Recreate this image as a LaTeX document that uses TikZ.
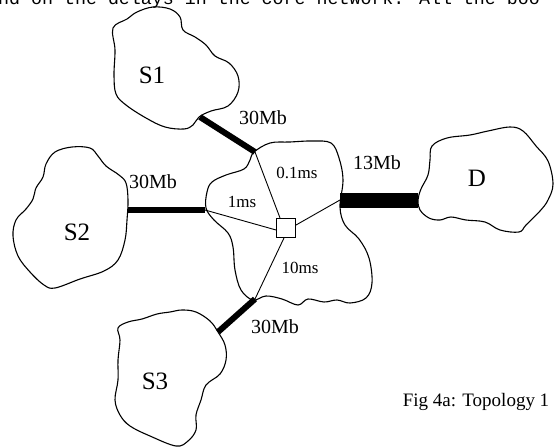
\documentclass[tikz,border=0pt]{standalone}
\usepackage{fontspec}
\setmainfont{Liberation Serif}
\newfontfamily\topfont{Liberation Mono}
\begin{document}
\begin{tikzpicture}[x=1pt,y=-1pt,
  cloud/.style={draw=black,line width=1.1pt,smooth cycle,tension=0.6},
  thinlink/.style={draw=black,line width=0.9pt},
  thicklink/.style={draw=black,line width=#1},
  cname/.style={font=\fontsize{25}{25}\selectfont},
  bwlabel/.style={font=\fontsize{20}{20}\selectfont},
  dlabel/.style={font=\fontsize{17}{17}\selectfont}]
\useasboundingbox (0,0) rectangle (554,447);
% cut-off text line at the top
\begin{scope}
\clip (0,0) rectangle (554,8);
\node[anchor=base west,inner sep=0,font=\topfont\fontsize{18.3}{18}\selectfont] (toptext) at (-2,4.5) {nd on the delays in the core network. All the boo};
\end{scope}
% clouds
\draw[cloud] plot coordinates {(113,28) (127,19) (137,12) (153,7) (170,9) (180,17) (183,30) (195,37) (206,45) (215,56) (229,63) (238,76) (238,92) (228,106) (211,111) (199,117) (193,125) (184,129) (165,127) (146,118) (126,105) (116,94) (114,75) (115,50)};
\draw[cloud] plot coordinates {(55,152) (72,147) (90,148) (98,156) (106,166) (119,175) (126,183) (128,200) (127,220) (125,240) (118,260) (104,271) (80,279) (55,288) (44,285) (30,272) (18,256) (13,236) (16,220) (26,209) (33,199) (36,188) (43,177) (46,164)};
\draw[cloud] plot coordinates {(432,146) (447,138) (470,135) (488,131) (510,127) (523,131) (536,146) (548,161) (553,184) (548,200) (540,211) (526,225) (519,232) (500,230) (485,222) (466,220) (451,217) (440,220) (429,218) (420,210) (418,200) (421,189) (428,175) (430,160)};
\draw[cloud] plot coordinates {(182,310) (196,312) (210,321) (218,332) (225,345) (226,360) (220,374) (206,385) (201,400) (196,415) (196,430) (188,441) (176,446) (150,436) (130,426) (120,415) (115,400) (118,380) (118,360) (120,340) (118,328) (128,322) (142,319) (157,314) (170,312)};
\draw[cloud] plot coordinates {(254,152) (270,143) (290,142) (312,141) (331,143) (339,158) (343,180) (340,207) (345,225) (359,239) (369,258) (372,283) (366,298) (350,303) (337,300) (324,302) (308,299) (298,305) (282,299) (266,296) (253,300) (241,290) (235,270) (233,247) (228,233) (214,220) (206,208) (207,192) (212,182) (226,175) (244,169) (250,160)};
% attach points
\coordinate (s1a) at (200,117);
\coordinate (s1b) at (255,152);
\coordinate (s2a) at (128,210);
\coordinate (s2b) at (205,210);
\coordinate (s3a) at (218,332);
\coordinate (s3b) at (255,299);
\coordinate (da) at (340,200);
\coordinate (db) at (418,200);
% router
\node[draw=black,line width=0.9pt,fill=white,minimum size=19pt,inner sep=0] (r) at (286,228) {};
% thin core links
\draw[thinlink] ([xshift=4pt]r.north west) -- (s1b);
\draw[thinlink] ([yshift=-2pt]r.west) -- (s2b);
\draw[thinlink] ([yshift=-7pt]r.north east) -- (da);
\draw[thinlink] ([xshift=-2pt]r.south) -- (s3b);
% thick access links
\draw[thicklink=6pt] (s1a) -- (s1b);
\draw[thicklink=6pt] (s2a) -- (s2b);
\draw[thicklink=6pt] (s3a) -- (s3b);
\draw[thicklink=15pt] (da) -- (db);
% labels
\node[cname] (S1) at (152,75) {S1};
\node[cname] (S2) at (77,232) {S2};
\node[cname] (S3) at (155,381) {S3};
\node[cname] (D) at (477,178) {D};
\node[bwlabel] (l1) at (263,118) {30Mb};
\node[bwlabel] (l2) at (153,182) {30Mb};
\node[bwlabel] (l3) at (275,327) {30Mb};
\node[bwlabel] (l4) at (377,163) {13Mb};
\node[dlabel] (d1) at (297,173) {0.1ms};
\node[dlabel] (d2) at (242,202) {1ms};
\node[dlabel] (d3) at (300,268) {10ms};
\node[font=\fontsize{19}{19}\selectfont] (cap) at (476,402) {Fig 4a: Topology 1};
\end{tikzpicture}
\end{document}
